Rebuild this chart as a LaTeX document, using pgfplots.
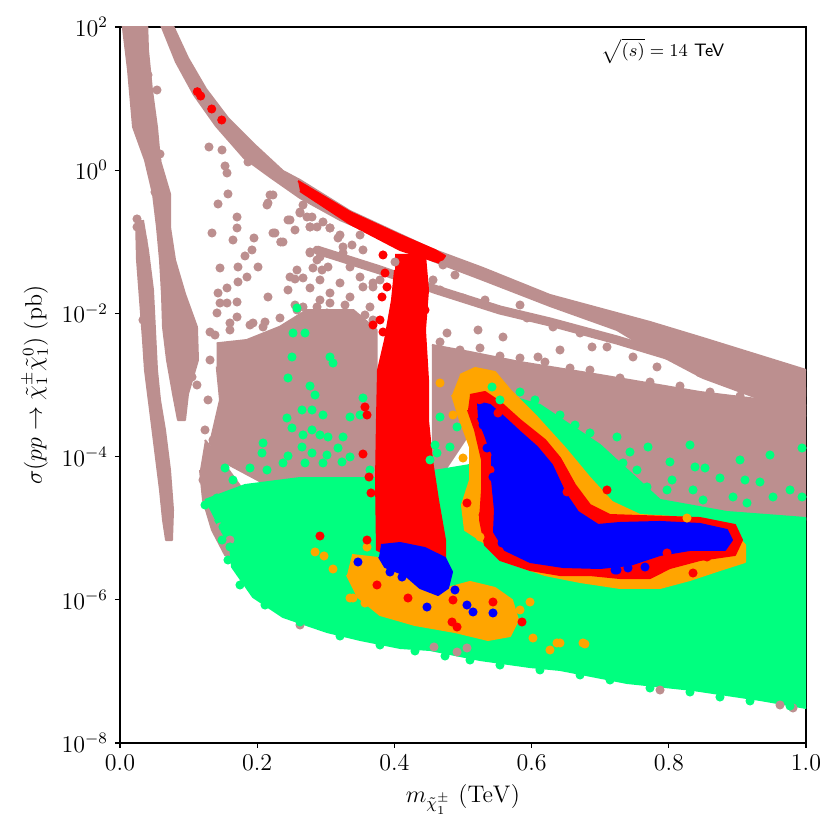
\documentclass[border=0pt]{standalone}
\usepackage{pgfplots}
\pgfplotsset{compat=1.18}
\definecolor{brn}{RGB}{188,143,143}
\definecolor{grn}{RGB}{0,255,127}
\definecolor{org}{RGB}{255,165,0}
\definecolor{rd}{RGB}{255,0,0}
\definecolor{bl}{RGB}{0,0,255}
\pgfplotsset{
  dots/.style={only marks, mark=*, mark size=2.05pt, color=#1, mark options={solid, fill=#1, draw=#1, line width=0.4pt}},
  blob/.style={fill=#1, draw=#1, line width=1pt, line join=round, mark=none},
}
\begin{document}
\begin{tikzpicture}
\begin{axis}[
  scale only axis, width=343pt, height=358pt,
  xmin=0, xmax=1, ymin=-8, ymax=2,
  xtick={0,0.2,0.4,0.6,0.8,1}, xticklabels={$0.0$,$0.2$,$0.4$,$0.6$,$0.8$,$1.0$},
  ytick={-8,-6,-4,-2,0,2}, yticklabels={$10^{-8}$,$10^{-6}$,$10^{-4}$,$10^{-2}$,$10^{0}$,$10^{2}$},
  tick align=outside, xtick pos=left, ytick pos=left,
  major tick length=2.5pt,
  axis line style={line width=0.6pt}, every tick/.style={line width=0.6pt, black},
  tick label style={font=\fontsize{12}{14}\selectfont},
  label style={font=\fontsize{12}{14}\selectfont},
  xlabel={$m_{\tilde{\chi}_1^{\pm}}\ (\mathrm{TeV})$},
  ylabel={$\sigma(pp\rightarrow\tilde{\chi}_1^{\pm}\tilde{\chi}_1^{0})\ (\mathrm{pb})$},
]
% ---------------- brown ----------------
% strip A
\addplot[blob=brn] coordinates {(0.0029,2.098) (0.0117,1.399) (0.0190,0.603) (0.0364,0.142) (0.0481,-0.332) (0.0539,-0.793) (0.0583,-1.254) (0.0612,-1.729) (0.0627,-2.190) (0.0685,-2.651) (0.0773,-3.126) (0.0845,-3.489) (0.0948,-3.489) (0.0991,-3.126) (0.1137,-2.651) (0.1122,-2.190) (0.0948,-1.729) (0.0802,-1.254) (0.0729,-0.793) (0.0729,-0.332) (0.0583,0.142) (0.0539,0.603) (0.0466,1.120) (0.0408,1.679) (0.0394,2.098)};
% strip B
\addplot[blob=brn] coordinates {(0.0233,-0.696) (0.0248,-1.254) (0.0292,-1.813) (0.0335,-2.372) (0.0364,-2.791) (0.0437,-3.349) (0.0510,-3.908) (0.0583,-4.466) (0.0627,-4.885) (0.0671,-5.165) (0.0758,-5.165) (0.0773,-4.746) (0.0729,-4.187) (0.0656,-3.629) (0.0583,-3.209) (0.0539,-2.791) (0.0510,-2.232) (0.0481,-1.673) (0.0408,-1.115) (0.0335,-0.696)};
% main band
\addplot[blob=brn] coordinates {(0.0700,2.168) (0.0991,1.567) (0.1254,1.134) (0.1574,0.729) (0.1983,0.338) (0.2376,-0.011) (0.2624,-0.137) (0.3353,-0.570) (0.4548,-1.101) (0.5292,-1.366) (0.6268,-1.743) (0.7726,-2.120) (0.8499,-2.344) (1.0,-2.790) (1.0204,-2.850) (1.0204,-3.489) (1.0,-3.433) (0.8499,-2.902) (0.7726,-2.511) (0.7245,-2.232) (0.6268,-1.897) (0.5292,-1.534) (0.4563,-1.268) (0.3790,-0.933) (0.3207,-0.696) (0.2624,-0.388) (0.2187,-0.095) (0.1808,0.170) (0.1399,0.617) (0.1079,1.050) (0.0816,1.511) (0.0539,2.168)};
% second band line
\addplot[draw=brn, line width=4.5pt, line cap=round, line join=round, mark=none] coordinates {(0.2872,-1.115) (0.3790,-1.394) (0.4621,-1.673) (0.5539,-1.953) (0.6268,-2.120) (0.7245,-2.372) (0.8455,-2.721) (0.9431,-2.930) (1.0,-3.098) (1.02,-3.13)};
% middle cloud
\addplot[blob=brn] coordinates {(0.1410,-2.418) (0.1847,-2.372) (0.2332,-2.186) (0.2722,-1.953) (0.3401,-1.953) (0.3742,-2.232) (0.3742,-4.373) (0.3159,-4.606) (0.2187,-4.420) (0.1458,-4.047) (0.1312,-3.814) (0.1458,-3.209) (0.1410,-2.744)};
% left tail
\addplot[blob=brn] coordinates {(0.1239,-3.768) (0.1531,-4.117) (0.1793,-4.466) (0.1749,-5.025) (0.1720,-5.444) (0.1531,-5.374) (0.1341,-5.025) (0.1210,-4.606) (0.1166,-4.187)};
% right cloud
\addplot[blob=brn] coordinates {(0.4548,-2.441) (0.5102,-2.539) (0.5831,-2.679) (0.6997,-2.860) (0.8455,-3.098) (1.0,-3.279) (1.02,-3.279) (1.02,-4.9) (1.0,-4.885) (0.8892,-4.816) (0.7872,-4.676) (0.6997,-3.908) (0.6122,-3.349) (0.5394,-3.000) (0.5102,-3.209) (0.5029,-3.768) (0.4738,-4.187) (0.4548,-4.187)};
% brown scattered points
\addplot[dots=brn] coordinates {
(0.1297,0.324) (0.1487,0.282) (0.1531,0.059) (0.1560,-0.039) (0.1866,0.115) (0.1997,0.143)
(0.2230,-0.346) (0.2143,-0.486) (0.1574,-0.332) (0.1429,-0.472) (0.1706,-0.654) (0.1706,-0.807)
(0.1341,-0.877) (0.1953,-0.947) (0.1924,-1.114) (0.2376,-1.003) (0.2259,-0.877) (0.1647,-0.975)
(0.1822,-1.198) (0.1458,-1.366) (0.1720,-1.352) (0.1851,-1.492) (0.2012,-1.352) (0.1429,-1.715)
(0.1560,-1.645) (0.1720,-1.561) (0.1706,-1.841) (0.2157,-1.771) (0.2478,-1.492) (0.2580,-1.394)
(0.2668,-1.505) (0.2813,-1.366) (0.2945,-1.394) (0.2770,-1.142) (0.2915,-1.212) (0.3061,-0.807)
(0.2959,-0.723) (0.2770,-0.793) (0.2478,-0.695) (0.2624,-0.598) (0.2726,-0.654) (0.2872,-0.793)
(0.3178,-0.947) (0.3251,-1.156) (0.3542,-1.114) (0.3688,-1.631) (0.3790,-1.533) (0.3542,-1.631)
(0.3207,-1.575) (0.3061,-1.715) (0.2872,-1.910) (0.3017,-1.994) (0.2580,-1.952)
(0.3382,-1.045) (0.4009,-1.282) (0.3499,-0.905)
(0.2187,-0.346) (0.2157,-0.458) (0.2449,-0.695) (0.2624,-0.584) (0.2668,-0.486) (0.2799,-0.654)
(0.2551,-0.835) (0.2230,-0.877) (0.2343,-1.003) (0.2770,-0.793) (0.3061,-0.807) (0.3207,-0.905)
(0.3251,-1.072) (0.2770,-1.156) (0.2872,-1.254) (0.3032,-1.352) (0.3353,-1.352) (0.3499,-1.492)
(0.3688,-1.575) (0.2770,-1.645) (0.2915,-1.533) (0.2551,-1.520) (0.2449,-1.673) (0.2668,-1.910)
(0.3061,-1.855) (0.3353,-1.771) (0.3644,-1.910) (0.3688,-2.092)
(0.4563,-1.533) (0.5000,-1.785) (0.4767,-2.274) (0.5219,-2.232) (0.5583,-2.330) (0.5933,-2.064)
(0.6093,-2.609) (0.6312,-2.190) (0.6706,-2.274) (0.6414,-2.511) (0.6881,-2.469) (0.7099,-2.469)
(0.7478,-2.609) (0.7828,-2.748) (0.8120,-2.651) (0.8455,-2.832) (0.8892,-2.930) (0.9227,-3.070)
(0.9519,-3.112) (0.9810,-3.209) (0.5321,-1.813) (0.5831,-1.883) (0.4883,-1.464) (0.4665,-1.673)
(0.4708,-1.324)
(0.4665,-2.399) (0.4956,-2.511) (0.5248,-2.483) (0.5539,-2.595) (0.5831,-2.623) (0.6195,-2.679)
(0.6560,-2.763) (0.6851,-2.791) (0.7289,-2.902) (0.7726,-2.958) (0.8163,-3.014) (0.8601,-3.098)
(0.9038,-3.154) (0.9475,-3.209) (0.9840,-3.265)
(0.1385,-2.302) (0.1603,-2.232) (0.1895,-2.162) (0.2114,-2.120) (0.2332,-2.064) (0.2551,-1.883)
(0.2915,-1.813) (0.3280,-1.883) (0.3571,-2.022) (0.1312,-2.651) (0.1283,-3.209) (0.1239,-3.628)
(0.4577,-6.659) (0.4913,-6.729) (0.5058,-6.673) (0.7872,-7.260) (0.9621,-7.469) (0.9810,-7.511) (0.2624,-6.352)
(0.0510,-0.305) (0.0612,-0.165) (0.0539,0.143) (0.0583,0.226) (0.0466,0.352) (0.0539,1.120) (0.0408,1.330)
(0.1122,-3.000) (0.1050,-2.888) (0.0248,-0.681) (0.0248,-0.793) (0.0335,-0.975) (0.0335,-2.092)
(0.0408,-2.651) (0.0466,-2.846)
(0.1312,-2.260) (0.1414,-1.994) (0.1603,-2.134) (0.1706,-2.050) (0.1939,-2.134) (0.2085,-2.190)
(0.1458,-1.855) (0.1560,-1.855) (0.1210,-4.327) (0.1268,-4.466) (0.1356,-3.768) (0.1458,-4.983)
(0.1603,-5.165) (0.3309,-2.274) (0.3499,-2.511) (0.3601,-2.930)
};
% ---------------- green ----------------
\addplot[blob=grn] coordinates {(0.1239,-4.606) (0.1822,-4.397) (0.2624,-4.299) (0.3732,-4.299) (0.4665,-4.187) (0.5102,-4.117) (0.5321,-3.768) (0.5466,-3.098) (0.6122,-3.279) (0.6997,-3.838) (0.7872,-4.606) (0.8848,-4.774) (1.0,-4.858) (1.0131,-4.858) (1.0131,-7.539) (1.0,-7.511) (0.9329,-7.399) (0.8353,-7.260) (0.7391,-7.162) (0.6414,-6.980) (0.5977,-6.939) (0.5248,-6.841) (0.4519,-6.701) (0.4082,-6.673) (0.3499,-6.561) (0.3017,-6.450) (0.2376,-6.240) (0.1939,-5.961) (0.1633,-5.542) (0.1603,-5.235) (0.1385,-4.885)};
\addplot[dots=grn] coordinates {
(0.2580,-1.925) (0.2522,-2.274) (0.2697,-2.274) (0.2507,-2.609) (0.3061,-2.609) (0.3105,-2.693)
(0.2449,-2.902) (0.2770,-3.014) (0.2843,-3.140) (0.3542,-3.181) (0.2653,-3.349) (0.2799,-3.349)
(0.2959,-3.419) (0.2434,-3.461) (0.3499,-3.419) (0.3353,-3.447) (0.2507,-3.600) (0.2799,-3.628)
(0.2668,-3.698) (0.2915,-3.698) (0.3032,-3.726) (0.3251,-3.726) (0.2085,-3.810) (0.2653,-3.866)
(0.3178,-3.880) (0.2070,-3.950) (0.2449,-3.991) (0.2799,-3.950) (0.3017,-3.978) (0.3353,-4.005)
(0.2376,-4.089) (0.2697,-4.089) (0.2959,-4.089) (0.3236,-4.075) (0.3644,-4.187) (0.1531,-4.159)
(0.1895,-4.159) (0.2143,-4.187) (0.1647,-4.327) (0.1239,-4.676) (0.1414,-4.578) (0.1458,-4.816)
(0.1501,-4.983) (0.1603,-5.262) (0.1574,-5.444) (0.1487,-5.165)
(0.4665,-3.447) (0.4913,-3.586) (0.4810,-3.866) (0.4621,-3.950) (0.4519,-4.047) (0.4592,-3.838)
(0.5423,-3.028) (0.5539,-3.209) (0.7245,-3.726) (0.7434,-3.936) (0.7697,-3.866) (0.7187,-4.089)
(0.7332,-4.089) (0.7536,-4.187) (0.8017,-4.075) (0.8382,-4.145) (0.8528,-4.159) (0.8746,-4.299)
(0.9111,-4.327) (0.9329,-4.355) (0.9519,-4.564) (0.9942,-4.564) (0.9767,-4.466) (0.7682,-4.424)
(0.8047,-4.327) (0.8353,-4.466) (0.8499,-4.606) (0.8936,-4.564) (0.9140,-4.648) (0.7974,-4.466)
(0.7755,-4.606) (0.7434,-4.508) (0.7289,-4.369) (0.9942,-3.880) (0.9475,-3.978) (0.9038,-4.047)
(0.8309,-3.838) (0.6633,-3.559) (0.6851,-3.670) (0.6414,-3.419) (0.5831,-3.098) (0.6050,-3.209)
(0.1749,-5.793) (0.2114,-6.073) (0.2624,-6.310) (0.3207,-6.506) (0.3790,-6.631) (0.4300,-6.715)
(0.4738,-6.785) (0.5102,-6.841) (0.5539,-6.911) (0.6122,-6.980) (0.6706,-7.050) (0.7143,-7.120)
(0.7726,-7.232) (0.8309,-7.288) (0.8746,-7.358) (0.9184,-7.413) (0.9767,-7.483)
};
% ---------------- orange ----------------
\addplot[blob=org] coordinates {(0.3382,-5.374) (0.3761,-5.416) (0.4082,-5.556) (0.4665,-5.863) (0.5102,-5.751) (0.5466,-5.835) (0.5714,-6.003) (0.5802,-6.282) (0.5685,-6.506) (0.5364,-6.561) (0.4883,-6.450) (0.4300,-6.352) (0.3790,-6.212) (0.3469,-5.961) (0.3309,-5.654)};
\addplot[blob=org] coordinates {(0.4956,-2.860) (0.5175,-2.763) (0.5466,-2.818) (0.5685,-3.070) (0.6050,-3.419) (0.6487,-3.880) (0.6851,-4.299) (0.7172,-4.634) (0.7580,-4.816) (0.8309,-4.858) (0.8892,-4.997) (0.9111,-5.235) (0.9111,-5.472) (0.8746,-5.584) (0.8309,-5.723) (0.7872,-5.835) (0.7289,-5.835) (0.6706,-5.751) (0.6195,-5.654) (0.5685,-5.486) (0.5364,-5.235) (0.5029,-5.025) (0.4985,-4.676) (0.5102,-4.327) (0.5102,-3.866) (0.4956,-3.489) (0.4840,-3.140)};
\addplot[dots=org] coordinates {
(0.2843,-5.332) (0.2974,-5.388) (0.3105,-5.570) (0.3397,-5.975) (0.3571,-6.045) (0.3601,-5.263)
(0.3353,-5.975) (0.5977,-6.031) (0.5831,-6.142) (0.6020,-6.534) (0.6370,-6.603) (0.6268,-6.701)
(0.6749,-6.603) (0.4854,-3.419) (0.5000,-4.020) (0.5248,-5.123) (0.5146,-4.927) (0.7041,-4.578)
(0.8265,-4.858) (0.6414,-6.603) (0.6778,-6.617) (0.4665,-2.972)
};
% ---------------- red ----------------
\addplot[blob=rd] coordinates {(0.4009,-1.184) (0.4446,-1.184) (0.4490,-1.673) (0.4446,-2.232) (0.4490,-2.930) (0.4490,-3.489) (0.4548,-4.047) (0.4636,-4.606) (0.4738,-5.165) (0.4738,-5.444) (0.4082,-5.444) (0.3746,-5.304) (0.3732,-4.327) (0.3746,-3.489) (0.3761,-2.791) (0.3863,-2.372) (0.3965,-1.813) (0.4009,-1.394)};
\addplot[blob=rd] coordinates {(0.2595,-0.151) (0.3353,-0.584) (0.4082,-0.905) (0.4592,-1.115) (0.4738,-1.198) (0.4665,-1.296) (0.4082,-1.115) (0.3353,-0.751) (0.2624,-0.291)};
\addplot[blob=rd] coordinates {(0.5102,-3.140) (0.5321,-3.098) (0.5539,-3.237) (0.5831,-3.489) (0.6195,-3.768) (0.6414,-4.020) (0.6633,-4.397) (0.6851,-4.676) (0.7143,-4.816) (0.7580,-4.830) (0.8455,-4.858) (0.8965,-4.955) (0.9067,-5.165) (0.8965,-5.374) (0.8455,-5.444) (0.8017,-5.556) (0.7726,-5.696) (0.7289,-5.696) (0.6851,-5.654) (0.6414,-5.654) (0.5977,-5.584) (0.5539,-5.444) (0.5321,-5.235) (0.5248,-4.885) (0.5277,-4.466) (0.5277,-4.047) (0.5175,-3.628) (0.5073,-3.349)};
\addplot[dots=rd] coordinates {
(0.1127,1.096) (0.1176,1.036) (0.1337,0.855) (0.1483,0.701)
(0.3834,-1.184) (0.3863,-1.436) (0.3892,-1.631) (0.3819,-1.771) (0.3790,-2.092) (0.3688,-2.162)
(0.3834,-2.260) (0.4417,-1.673) (0.4446,-1.953) (0.4373,-2.274) (0.4519,-1.184)
(0.3571,-3.307) (0.3601,-3.419) (0.3542,-3.964) (0.3630,-4.285) (0.3659,-4.508) (0.2915,-5.109)
(0.3601,-5.165) (0.4198,-5.975) (0.3746,-5.793) (0.4854,-6.003) (0.5437,-6.031) (0.4840,-6.310)
(0.4913,-6.380) (0.5860,-6.310) (0.5058,-4.648) (0.5292,-4.816)
(0.7099,-4.466) (0.6516,-4.494) (0.8353,-5.626) (0.8557,-5.402) (0.7974,-5.346) (0.5350,-3.978)
(0.5394,-4.187) (0.5248,-3.209) (0.5510,-3.391)
};
% ---------------- blue ----------------
\addplot[blob=bl] coordinates {(0.3805,-5.235) (0.4082,-5.207) (0.4446,-5.277) (0.4738,-5.416) (0.4840,-5.612) (0.4781,-5.835) (0.4636,-5.933) (0.4373,-5.835) (0.4155,-5.654) (0.3863,-5.542) (0.3776,-5.402)};
\addplot[blob=bl] coordinates {(0.5204,-3.237) (0.5394,-3.279) (0.5612,-3.461) (0.5831,-3.656) (0.6079,-3.866) (0.6297,-4.117) (0.6487,-4.508) (0.6676,-4.774) (0.6968,-4.955) (0.7289,-4.927) (0.7872,-4.913) (0.8455,-4.941) (0.8848,-5.025) (0.8921,-5.165) (0.8819,-5.304) (0.8309,-5.304) (0.7872,-5.374) (0.7434,-5.514) (0.6997,-5.556) (0.6458,-5.542) (0.5977,-5.472) (0.5612,-5.304) (0.5452,-5.053) (0.5466,-4.746) (0.5423,-4.327) (0.5423,-3.978) (0.5321,-3.698) (0.5219,-3.461)};
\addplot[dots=bl] coordinates {
(0.3469,-5.472) (0.3936,-5.612) (0.4111,-5.682) (0.4475,-6.101) (0.5058,-6.073) (0.5146,-6.170)
(0.5437,-6.184) (0.4883,-5.863) (0.5277,-3.321) (0.5292,-3.559) (0.5423,-3.726) (0.5350,-3.880)
(0.5437,-4.285) (0.5496,-4.508) (0.5569,-5.207) (0.6516,-4.648) (0.6706,-4.927) (0.7245,-5.584)
(0.7332,-5.305) (0.7143,-5.346) (0.7216,-5.584) (0.7405,-5.556) (0.7653,-5.542) (0.7609,-5.263)
};
\node[font=\fontsize{9}{11}\selectfont] at (axis cs:0.7915,1.665) {$\sqrt{(s)}=14$ \textsf{TeV}};
\coordinate (SW) at (rel axis cs:0,0);
\coordinate (NE) at (rel axis cs:1,1);
\end{axis}
\pgfresetboundingbox
\path ([shift={(-60pt,-48.5pt)}]SW) rectangle ([shift={(17pt,13.5pt)}]NE);
\end{tikzpicture}
\end{document}
